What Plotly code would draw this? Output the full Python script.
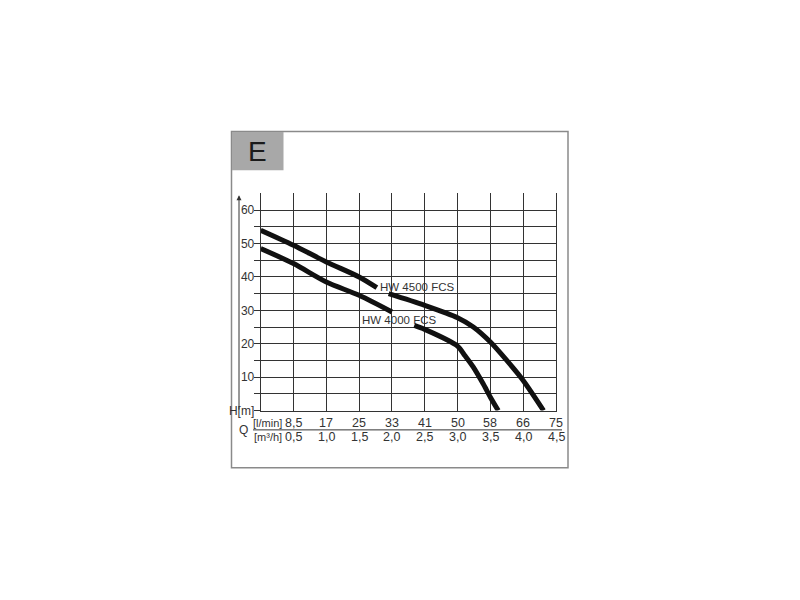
import plotly.graph_objects as go

# ---- data ----
q_ticks = [0.5, 1.0, 1.5, 2.0, 2.5, 3.0, 3.5, 4.0, 4.5]
q_lmin_labels = ["8,5", "17", "25", "33", "41", "50", "58", "66", "75"]
q_m3h_labels = ["0,5", "1,0", "1,5", "2,0", "2,5", "3,0", "3,5", "4,0", "4,5"]
h_ticks = [0, 5, 10, 15, 20, 25, 30, 35, 40, 45, 50, 55, 60]
h_labels = ["H[m]", "", "10", "", "20", "", "30", "", "40", "", "50", "", "60"]

hw4500_q_a = [0.0, 0.5, 1.0, 1.5, 1.77]
hw4500_h_a = [54.0, 49.5, 44.5, 40.0, 36.8]
hw4500_q_b = [1.95, 2.5, 3.0, 3.24, 3.5, 3.75, 4.0, 4.31]
hw4500_h_b = [35.0, 31.5, 27.8, 25.0, 20.5, 15.0, 9.0, 0.0]

hw4000_q_a = [0.0, 0.5, 1.0, 1.5, 2.0]
hw4000_h_a = [48.5, 44.0, 38.5, 34.5, 29.5]
hw4000_q_b = [2.34, 2.5, 3.0, 3.11, 3.24, 3.39, 3.5, 3.62]
hw4000_h_b = [25.5, 24.3, 19.3, 16.5, 13.0, 8.0, 4.0, 0.0]

label_4500 = "HW 4500 FCS"
label_4000 = "HW 4000 FCS"

W, H = 800, 600
OFF = 8  # page body margin
def px(x):
    return (x - OFF) / W
def py(y):
    yu = (y - 0.26) / 0.9866
    return 1 - (yu - OFF) / H

fig = go.Figure()
line_style = dict(color="#111111", width=5, shape="spline", smoothing=0.8)
for qx, hy in [(hw4500_q_a, hw4500_h_a), (hw4500_q_b, hw4500_h_b),
               (hw4000_q_a, hw4000_h_a), (hw4000_q_b, hw4000_h_b)]:
    fig.add_trace(go.Scatter(x=qx, y=hy, mode="lines", line=line_style,
                             hoverinfo="skip", showlegend=False))

grid_col = "#333333"
fig.update_layout(
    width=W, height=H,
    margin=dict(l=0, r=0, t=0, b=0),
    paper_bgcolor="white", plot_bgcolor="white",
    font=dict(family="Liberation Sans, Arial, sans-serif", size=12, color="#333333"),
    showlegend=False,
    xaxis=dict(domain=[px(260.7), px(556)], range=[0, 4.5], tickvals=[0] + q_ticks,
               showticklabels=False, showgrid=True, gridcolor=grid_col, gridwidth=1,
               zeroline=False, showline=True, linecolor=grid_col, linewidth=1,
               ticks="", fixedrange=True),
    yaxis=dict(domain=[py(410), py(193.3)], range=[0, 65], tickvals=h_ticks,
               ticktext=h_labels, showgrid=True, gridcolor=grid_col, gridwidth=1,
               zeroline=False, showline=True, mirror=True, linecolor=grid_col, linewidth=1,
               ticks="outside", ticklen=6, tickcolor=grid_col, tickwidth=1,
               ticklabelstandoff=-3,
               tickfont=dict(size=12, color="#333333"), fixedrange=True),
)

shapes = [
    # outer frame
    dict(type="rect", xref="paper", yref="paper", x0=px(231.5), x1=px(568), y0=py(467), y1=py(131.5),
         line=dict(color="#8a8a8a", width=1.5), fillcolor="rgba(0,0,0,0)", layer="below"),
    # grey E box
    dict(type="rect", xref="paper", yref="paper", x0=px(232), x1=px(283.5), y0=py(170), y1=py(132),
         line=dict(width=0), fillcolor="#a8a8a8", layer="below"),
    # Q separator line
    dict(type="line", xref="paper", yref="paper", x0=px(253), x1=px(562), y0=py(429.3), y1=py(429.3),
         line=dict(color="#333333", width=1)),
]
fig.update_layout(shapes=shapes)

ann = []
ann.append(dict(text="E", xref="paper", yref="paper", x=px(257.5), y=py(151.5),
                showarrow=False, font=dict(size=28, color="#1a1a1a"), xanchor="center", yanchor="middle"))
# vertical arrow on H axis
ann.append(dict(xref="paper", yref="y", x=px(239), y=64.5, ax=0, ay=216, axref="pixel", ayref="pixel",
                showarrow=True, arrowhead=2, arrowsize=1, arrowwidth=1, arrowcolor="#333333", text=""))
for q, l1, l2 in zip(q_ticks, q_lmin_labels, q_m3h_labels):
    ann.append(dict(text=l1, xref="x", yref="paper", x=q, y=py(422), showarrow=False,
                    xanchor="center", yanchor="middle", font=dict(size=12.5, color="#333333")))
    ann.append(dict(text=l2, xref="x", yref="paper", x=q, y=py(436), showarrow=False,
                    xanchor="center", yanchor="middle", font=dict(size=12.5, color="#333333")))
ann.append(dict(text="[l/min]", xref="paper", yref="paper", x=px(267.5), y=py(422), showarrow=False,
                xanchor="center", yanchor="middle", font=dict(size=11, color="#333333")))
ann.append(dict(text="[m³/h]", xref="paper", yref="paper", x=px(267.5), y=py(436), showarrow=False,
                xanchor="center", yanchor="middle", font=dict(size=11, color="#333333")))
ann.append(dict(text="Q", xref="paper", yref="paper", x=px(243.5), y=py(429), showarrow=False,
                xanchor="center", yanchor="middle", font=dict(size=12, color="#333333")))
ann.append(dict(text=label_4500, xref="x", yref="y", x=1.78, y=37.0, showarrow=False,
                xanchor="left", yanchor="middle", font=dict(size=11.5, color="#333333")))
ann.append(dict(text=label_4000, xref="x", yref="y", x=1.52, y=27.2, showarrow=False,
                xanchor="left", yanchor="middle", font=dict(size=11.5, color="#333333")))
fig.update_layout(annotations=ann)

fig.write_html("out.html")
